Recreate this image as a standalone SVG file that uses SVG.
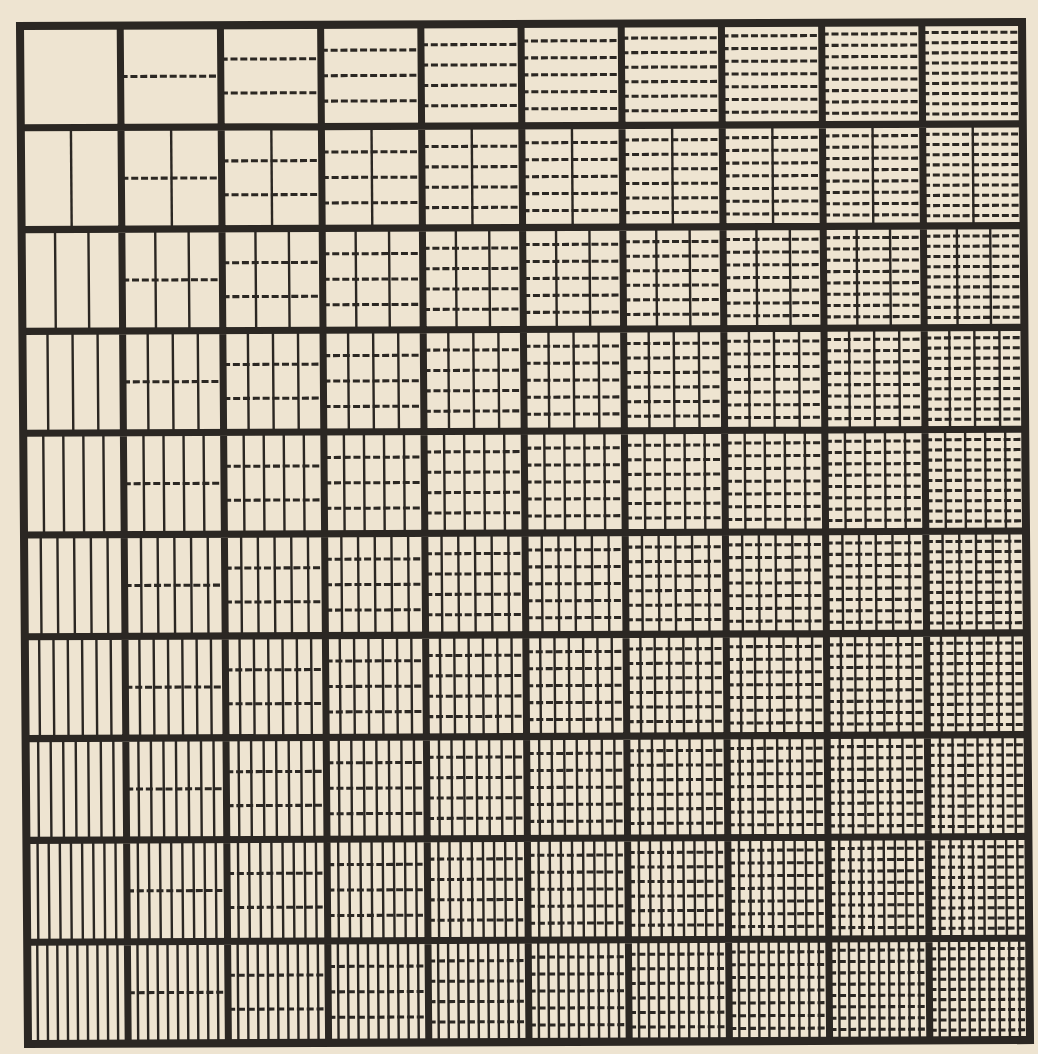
<svg xmlns="http://www.w3.org/2000/svg" xmlns:xlink="http://www.w3.org/1999/xlink" width="1038" height="1054" viewBox="0 0 1038 1054">
<style>
.v{fill:none;stroke:#2b2723;stroke-width:2.4}
.h{fill:none;stroke:#2b2723;stroke-width:3;stroke-dasharray:7 2.8}
.thick{fill:none;stroke:#2b2723;stroke-width:7}
.border{fill:none;stroke:#2b2723;stroke-width:8;stroke-linejoin:miter}
</style>
<defs>
<path id="v2" class="v" d="M50 0V100"/>
<path id="v3" class="v" d="M33.33 0V100M66.67 0V100"/>
<path id="v4" class="v" d="M25 0V100M50 0V100M75 0V100"/>
<path id="v5" class="v" d="M20 0V100M40 0V100M60 0V100M80 0V100"/>
<path id="v6" class="v" d="M16.67 0V100M33.33 0V100M50 0V100M66.67 0V100M83.33 0V100"/>
<path id="v7" class="v" d="M14.29 0V100M28.57 0V100M42.86 0V100M57.14 0V100M71.43 0V100M85.71 0V100"/>
<path id="v8" class="v" d="M12.5 0V100M25 0V100M37.5 0V100M50 0V100M62.5 0V100M75 0V100M87.5 0V100"/>
<path id="v9" class="v" d="M11.11 0V100M22.22 0V100M33.33 0V100M44.44 0V100M55.56 0V100M66.67 0V100M77.78 0V100M88.89 0V100"/>
<path id="v10" class="v" d="M10 0V100M20 0V100M30 0V100M40 0V100M50 0V100M60 0V100M70 0V100M80 0V100M90 0V100"/>
<path id="h2" class="h" d="M0 50H100"/>
<path id="h3" class="h" d="M0 33.33H100M0 66.67H100"/>
<path id="h4" class="h" d="M0 25H100M0 50H100M0 75H100"/>
<path id="h5" class="h" d="M0 20H100M0 40H100M0 60H100M0 80H100"/>
<path id="h6" class="h" d="M0 16.67H100M0 33.33H100M0 50H100M0 66.67H100M0 83.33H100"/>
<path id="h7" class="h" d="M0 14.29H100M0 28.57H100M0 42.86H100M0 57.14H100M0 71.43H100M0 85.71H100"/>
<path id="h8" class="h" d="M0 12.5H100M0 25H100M0 37.5H100M0 50H100M0 62.5H100M0 75H100M0 87.5H100"/>
<path id="h9" class="h" d="M0 11.11H100M0 22.22H100M0 33.33H100M0 44.44H100M0 55.56H100M0 66.67H100M0 77.78H100M0 88.89H100"/>
<path id="h10" class="h" d="M0 10H100M0 20H100M0 30H100M0 40H100M0 50H100M0 60H100M0 70H100M0 80H100M0 90H100"/>
</defs>
<rect x="0" y="0" width="1038" height="1054" fill="#eee4d1"/>
<g transform="matrix(1.002 -0.004 0.008 1.018 20 26)">
<g id="cells">
<g id="cell-1-1" transform="translate(0 0)"/>
<g id="cell-1-2" transform="translate(100 0)"><use href="#h2"/></g>
<g id="cell-1-3" transform="translate(200 0)"><use href="#h3"/></g>
<g id="cell-1-4" transform="translate(300 0)"><use href="#h4"/></g>
<g id="cell-1-5" transform="translate(400 0)"><use href="#h5"/></g>
<g id="cell-1-6" transform="translate(500 0)"><use href="#h6"/></g>
<g id="cell-1-7" transform="translate(600 0)"><use href="#h7"/></g>
<g id="cell-1-8" transform="translate(700 0)"><use href="#h8"/></g>
<g id="cell-1-9" transform="translate(800 0)"><use href="#h9"/></g>
<g id="cell-1-10" transform="translate(900 0)"><use href="#h10"/></g>
<g id="cell-2-1" transform="translate(0 100)"><use href="#v2"/></g>
<g id="cell-2-2" transform="translate(100 100)"><use href="#v2"/><use href="#h2"/></g>
<g id="cell-2-3" transform="translate(200 100)"><use href="#v2"/><use href="#h3"/></g>
<g id="cell-2-4" transform="translate(300 100)"><use href="#v2"/><use href="#h4"/></g>
<g id="cell-2-5" transform="translate(400 100)"><use href="#v2"/><use href="#h5"/></g>
<g id="cell-2-6" transform="translate(500 100)"><use href="#v2"/><use href="#h6"/></g>
<g id="cell-2-7" transform="translate(600 100)"><use href="#v2"/><use href="#h7"/></g>
<g id="cell-2-8" transform="translate(700 100)"><use href="#v2"/><use href="#h8"/></g>
<g id="cell-2-9" transform="translate(800 100)"><use href="#v2"/><use href="#h9"/></g>
<g id="cell-2-10" transform="translate(900 100)"><use href="#v2"/><use href="#h10"/></g>
<g id="cell-3-1" transform="translate(0 200)"><use href="#v3"/></g>
<g id="cell-3-2" transform="translate(100 200)"><use href="#v3"/><use href="#h2"/></g>
<g id="cell-3-3" transform="translate(200 200)"><use href="#v3"/><use href="#h3"/></g>
<g id="cell-3-4" transform="translate(300 200)"><use href="#v3"/><use href="#h4"/></g>
<g id="cell-3-5" transform="translate(400 200)"><use href="#v3"/><use href="#h5"/></g>
<g id="cell-3-6" transform="translate(500 200)"><use href="#v3"/><use href="#h6"/></g>
<g id="cell-3-7" transform="translate(600 200)"><use href="#v3"/><use href="#h7"/></g>
<g id="cell-3-8" transform="translate(700 200)"><use href="#v3"/><use href="#h8"/></g>
<g id="cell-3-9" transform="translate(800 200)"><use href="#v3"/><use href="#h9"/></g>
<g id="cell-3-10" transform="translate(900 200)"><use href="#v3"/><use href="#h10"/></g>
<g id="cell-4-1" transform="translate(0 300)"><use href="#v4"/></g>
<g id="cell-4-2" transform="translate(100 300)"><use href="#v4"/><use href="#h2"/></g>
<g id="cell-4-3" transform="translate(200 300)"><use href="#v4"/><use href="#h3"/></g>
<g id="cell-4-4" transform="translate(300 300)"><use href="#v4"/><use href="#h4"/></g>
<g id="cell-4-5" transform="translate(400 300)"><use href="#v4"/><use href="#h5"/></g>
<g id="cell-4-6" transform="translate(500 300)"><use href="#v4"/><use href="#h6"/></g>
<g id="cell-4-7" transform="translate(600 300)"><use href="#v4"/><use href="#h7"/></g>
<g id="cell-4-8" transform="translate(700 300)"><use href="#v4"/><use href="#h8"/></g>
<g id="cell-4-9" transform="translate(800 300)"><use href="#v4"/><use href="#h9"/></g>
<g id="cell-4-10" transform="translate(900 300)"><use href="#v4"/><use href="#h10"/></g>
<g id="cell-5-1" transform="translate(0 400)"><use href="#v5"/></g>
<g id="cell-5-2" transform="translate(100 400)"><use href="#v5"/><use href="#h2"/></g>
<g id="cell-5-3" transform="translate(200 400)"><use href="#v5"/><use href="#h3"/></g>
<g id="cell-5-4" transform="translate(300 400)"><use href="#v5"/><use href="#h4"/></g>
<g id="cell-5-5" transform="translate(400 400)"><use href="#v5"/><use href="#h5"/></g>
<g id="cell-5-6" transform="translate(500 400)"><use href="#v5"/><use href="#h6"/></g>
<g id="cell-5-7" transform="translate(600 400)"><use href="#v5"/><use href="#h7"/></g>
<g id="cell-5-8" transform="translate(700 400)"><use href="#v5"/><use href="#h8"/></g>
<g id="cell-5-9" transform="translate(800 400)"><use href="#v5"/><use href="#h9"/></g>
<g id="cell-5-10" transform="translate(900 400)"><use href="#v5"/><use href="#h10"/></g>
<g id="cell-6-1" transform="translate(0 500)"><use href="#v6"/></g>
<g id="cell-6-2" transform="translate(100 500)"><use href="#v6"/><use href="#h2"/></g>
<g id="cell-6-3" transform="translate(200 500)"><use href="#v6"/><use href="#h3"/></g>
<g id="cell-6-4" transform="translate(300 500)"><use href="#v6"/><use href="#h4"/></g>
<g id="cell-6-5" transform="translate(400 500)"><use href="#v6"/><use href="#h5"/></g>
<g id="cell-6-6" transform="translate(500 500)"><use href="#v6"/><use href="#h6"/></g>
<g id="cell-6-7" transform="translate(600 500)"><use href="#v6"/><use href="#h7"/></g>
<g id="cell-6-8" transform="translate(700 500)"><use href="#v6"/><use href="#h8"/></g>
<g id="cell-6-9" transform="translate(800 500)"><use href="#v6"/><use href="#h9"/></g>
<g id="cell-6-10" transform="translate(900 500)"><use href="#v6"/><use href="#h10"/></g>
<g id="cell-7-1" transform="translate(0 600)"><use href="#v7"/></g>
<g id="cell-7-2" transform="translate(100 600)"><use href="#v7"/><use href="#h2"/></g>
<g id="cell-7-3" transform="translate(200 600)"><use href="#v7"/><use href="#h3"/></g>
<g id="cell-7-4" transform="translate(300 600)"><use href="#v7"/><use href="#h4"/></g>
<g id="cell-7-5" transform="translate(400 600)"><use href="#v7"/><use href="#h5"/></g>
<g id="cell-7-6" transform="translate(500 600)"><use href="#v7"/><use href="#h6"/></g>
<g id="cell-7-7" transform="translate(600 600)"><use href="#v7"/><use href="#h7"/></g>
<g id="cell-7-8" transform="translate(700 600)"><use href="#v7"/><use href="#h8"/></g>
<g id="cell-7-9" transform="translate(800 600)"><use href="#v7"/><use href="#h9"/></g>
<g id="cell-7-10" transform="translate(900 600)"><use href="#v7"/><use href="#h10"/></g>
<g id="cell-8-1" transform="translate(0 700)"><use href="#v8"/></g>
<g id="cell-8-2" transform="translate(100 700)"><use href="#v8"/><use href="#h2"/></g>
<g id="cell-8-3" transform="translate(200 700)"><use href="#v8"/><use href="#h3"/></g>
<g id="cell-8-4" transform="translate(300 700)"><use href="#v8"/><use href="#h4"/></g>
<g id="cell-8-5" transform="translate(400 700)"><use href="#v8"/><use href="#h5"/></g>
<g id="cell-8-6" transform="translate(500 700)"><use href="#v8"/><use href="#h6"/></g>
<g id="cell-8-7" transform="translate(600 700)"><use href="#v8"/><use href="#h7"/></g>
<g id="cell-8-8" transform="translate(700 700)"><use href="#v8"/><use href="#h8"/></g>
<g id="cell-8-9" transform="translate(800 700)"><use href="#v8"/><use href="#h9"/></g>
<g id="cell-8-10" transform="translate(900 700)"><use href="#v8"/><use href="#h10"/></g>
<g id="cell-9-1" transform="translate(0 800)"><use href="#v9"/></g>
<g id="cell-9-2" transform="translate(100 800)"><use href="#v9"/><use href="#h2"/></g>
<g id="cell-9-3" transform="translate(200 800)"><use href="#v9"/><use href="#h3"/></g>
<g id="cell-9-4" transform="translate(300 800)"><use href="#v9"/><use href="#h4"/></g>
<g id="cell-9-5" transform="translate(400 800)"><use href="#v9"/><use href="#h5"/></g>
<g id="cell-9-6" transform="translate(500 800)"><use href="#v9"/><use href="#h6"/></g>
<g id="cell-9-7" transform="translate(600 800)"><use href="#v9"/><use href="#h7"/></g>
<g id="cell-9-8" transform="translate(700 800)"><use href="#v9"/><use href="#h8"/></g>
<g id="cell-9-9" transform="translate(800 800)"><use href="#v9"/><use href="#h9"/></g>
<g id="cell-9-10" transform="translate(900 800)"><use href="#v9"/><use href="#h10"/></g>
<g id="cell-10-1" transform="translate(0 900)"><use href="#v10"/></g>
<g id="cell-10-2" transform="translate(100 900)"><use href="#v10"/><use href="#h2"/></g>
<g id="cell-10-3" transform="translate(200 900)"><use href="#v10"/><use href="#h3"/></g>
<g id="cell-10-4" transform="translate(300 900)"><use href="#v10"/><use href="#h4"/></g>
<g id="cell-10-5" transform="translate(400 900)"><use href="#v10"/><use href="#h5"/></g>
<g id="cell-10-6" transform="translate(500 900)"><use href="#v10"/><use href="#h6"/></g>
<g id="cell-10-7" transform="translate(600 900)"><use href="#v10"/><use href="#h7"/></g>
<g id="cell-10-8" transform="translate(700 900)"><use href="#v10"/><use href="#h8"/></g>
<g id="cell-10-9" transform="translate(800 900)"><use href="#v10"/><use href="#h9"/></g>
<g id="cell-10-10" transform="translate(900 900)"><use href="#v10"/><use href="#h10"/></g>
</g>
<g id="grid">
<path class="thick" d="M100 0V1000M200 0V1000M300 0V1000M400 0V1000M500 0V1000M600 0V1000M700 0V1000M800 0V1000M900 0V1000M0 100H1000M0 200H1000M0 300H1000M0 400H1000M0 500H1000M0 600H1000M0 700H1000M0 800H1000M0 900H1000"/>
<rect class="border" x="0" y="0" width="1000" height="1000"/>
</g>
</g>
</svg>
